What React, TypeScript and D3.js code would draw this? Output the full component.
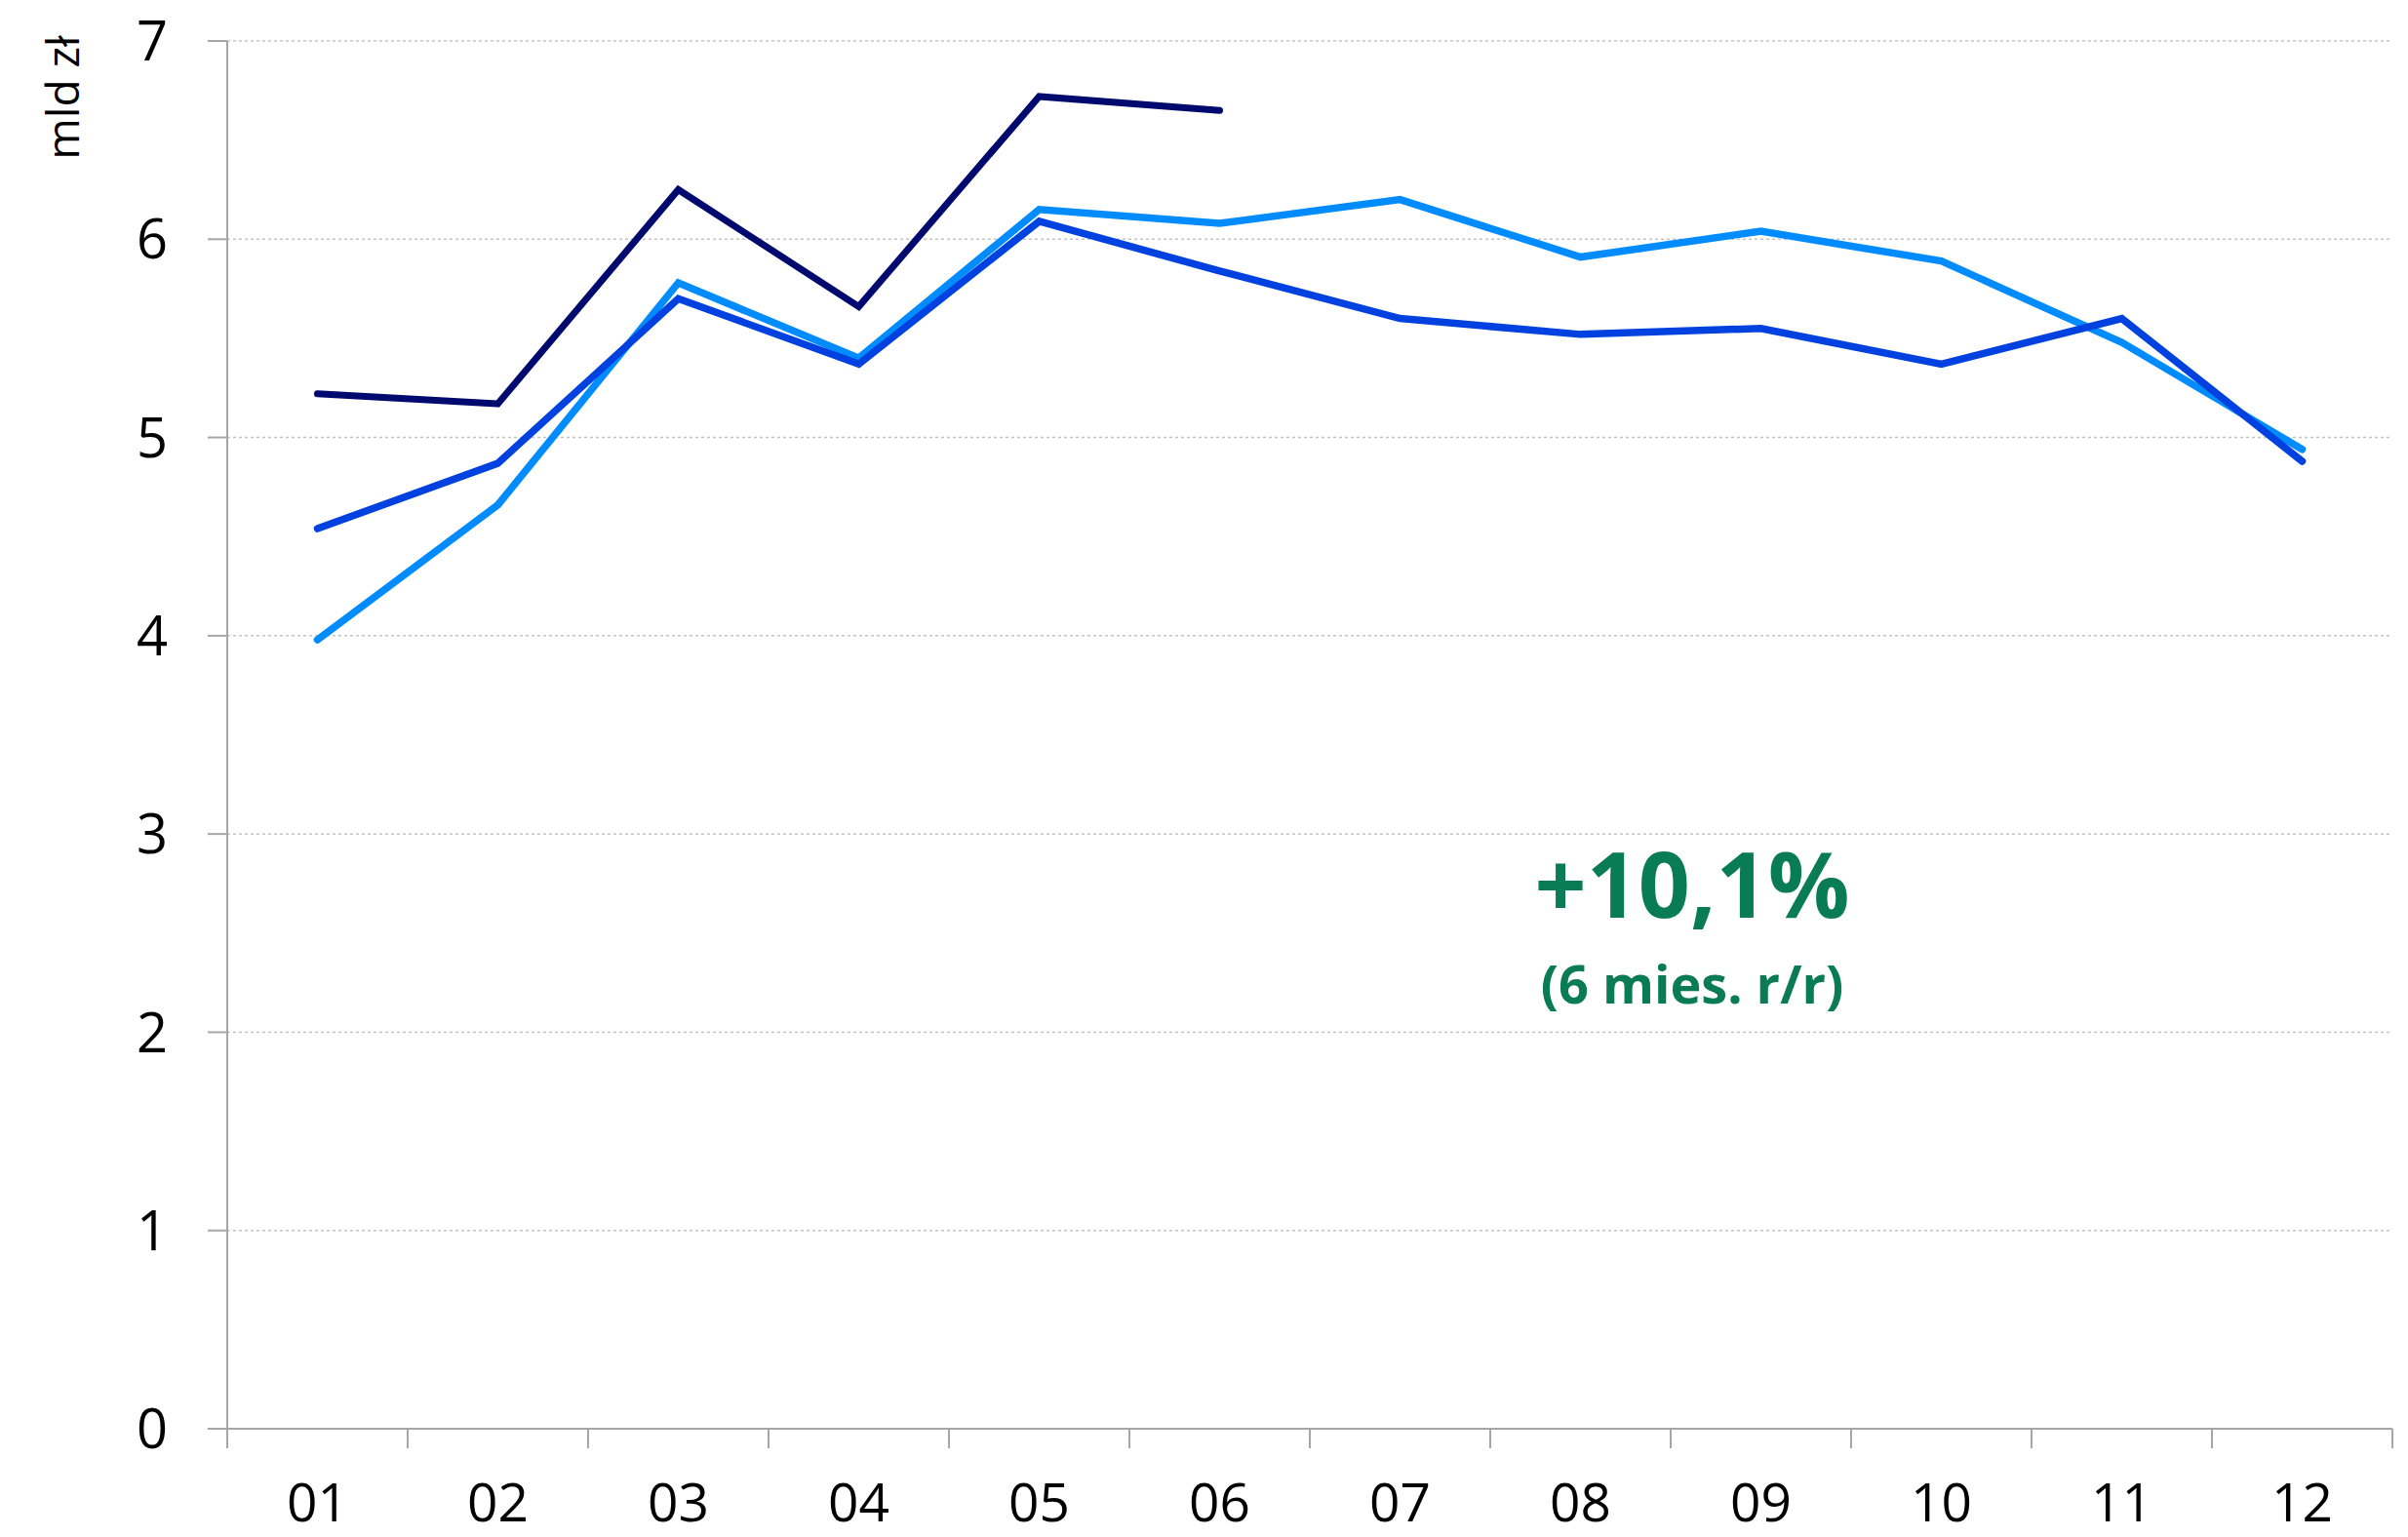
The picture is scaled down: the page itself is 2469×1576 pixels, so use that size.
import React from 'react';
import { scaleBand, scaleLinear, line } from 'd3';

// months on the x axis
const months = ['01', '02', '03', '04', '05', '06', '07', '08', '09', '10', '11', '12'];
const yTicks = [0, 1, 2, 3, 4, 5, 6, 7];

// values in mld zł
const twoYearsAgo = [3.98, 4.66, 5.78, 5.40, 6.15, 6.08, 6.20, 5.91, 6.04, 5.89, 5.48, 4.94];
const previousYear = [4.54, 4.87, 5.70, 5.37, 6.09, 5.84, 5.60, 5.52, 5.55, 5.37, 5.60, 4.88];
const currentYear = [5.22, 5.17, 6.25, 5.66, 6.72, 6.65];

const seriesColors = ['#008cff', '#0041e0', '#000a6e'];

const W = 2469;
const H = 1576;
const margin = { top: 42, right: 16, bottom: 111, left: 233 };
const font = '"Open Sans", "Noto Sans", sans-serif';

export default function App() {
    const x = scaleBand<string>()
        .domain(months)
        .range([margin.left, W - margin.right]);

    const y = scaleLinear()
        .domain([0, 7])
        .range([H - margin.bottom, margin.top]);

    const cx = (i: number) => (x(months[i]) ?? 0) + x.bandwidth() / 2;
    const path = line<number>()
        .x((_, i) => cx(i))
        .y(d => y(d));

    const series = [
        { key: 'twoYearsAgo', values: twoYearsAgo, color: seriesColors[0], width: 7.5 },
        { key: 'previousYear', values: previousYear, color: seriesColors[1], width: 7.5 },
        { key: 'currentYear', values: currentYear, color: seriesColors[2], width: 7 },
    ];

    const x0 = margin.left;
    const x1 = W - margin.right;
    const yBase = y(0);

    return (
        <div style={{ position: 'absolute', left: 0, top: 0 }}>
            <svg width={W} height={H} style={{ display: 'block', background: '#fff' }}>
                {/* dotted gridlines */}
                {yTicks.filter(t => t > 0).map(t => (
                    <line
                        key={t}
                        x1={x0}
                        x2={x1}
                        y1={y(t)}
                        y2={y(t)}
                        stroke="#c3c3c3"
                        strokeWidth={1.5}
                        strokeDasharray="3,3"
                    />
                ))}

                {/* y axis */}
                <line x1={x0} x2={x0} y1={y(7)} y2={yBase} stroke="#a6a6a6" strokeWidth={2} />
                {yTicks.map(t => (
                    <g key={t}>
                        <line x1={x0 - 20} x2={x0} y1={y(t)} y2={y(t)} stroke="#a6a6a6" strokeWidth={2} />
                        <text
                            x={172}
                            y={y(t)}
                            dy="0.36em"
                            textAnchor="end"
                            fontFamily={font}
                            fontSize={56}
                            fill="#000"
                        >
                            {t}
                        </text>
                    </g>
                ))}

                {/* x axis */}
                <line x1={x0} x2={x1} y1={yBase} y2={yBase} stroke="#a6a6a6" strokeWidth={2} />
                {months.map(m => (
                    <line
                        key={'t' + m}
                        x1={x(m)}
                        x2={x(m)}
                        y1={yBase}
                        y2={yBase + 20}
                        stroke="#a6a6a6"
                        strokeWidth={2}
                    />
                ))}
                <line x1={x1} x2={x1} y1={yBase} y2={yBase + 20} stroke="#a6a6a6" strokeWidth={2} />
                {months.map((m, i) => (
                    <text
                        key={m}
                        x={cx(i)}
                        y={1560}
                        textAnchor="middle"
                        fontFamily={font}
                        fontSize={55}
                        fill="#000"
                    >
                        {m}
                    </text>
                ))}

                {/* unit label */}
                <text
                    transform="translate(81, 100) rotate(-90)"
                    textAnchor="middle"
                    fontFamily={font}
                    fontSize={46}
                    fill="#000"
                >
                    mld zł
                </text>

                {/* lines */}
                {series.map(s => (
                    <path
                        key={s.key}
                        d={path(s.values) ?? ''}
                        fill="none"
                        stroke={s.color}
                        strokeWidth={s.width}
                        strokeLinecap="round"
                        strokeLinejoin="miter"
                    />
                ))}

                {/* annotation */}
                <text
                    x={1735}
                    y={941}
                    textAnchor="middle"
                    fontFamily={font}
                    fontWeight={700}
                    fontSize={93}
                    fill="#0a7c55"
                >
                    +10,1%
                </text>
                <text
                    x={1735}
                    y={1029}
                    textAnchor="middle"
                    fontFamily={font}
                    fontWeight={700}
                    fontSize={54}
                    fill="#0a7c55"
                >
                    (6 mies. r/r)
                </text>
            </svg>
        </div>
    );
}
